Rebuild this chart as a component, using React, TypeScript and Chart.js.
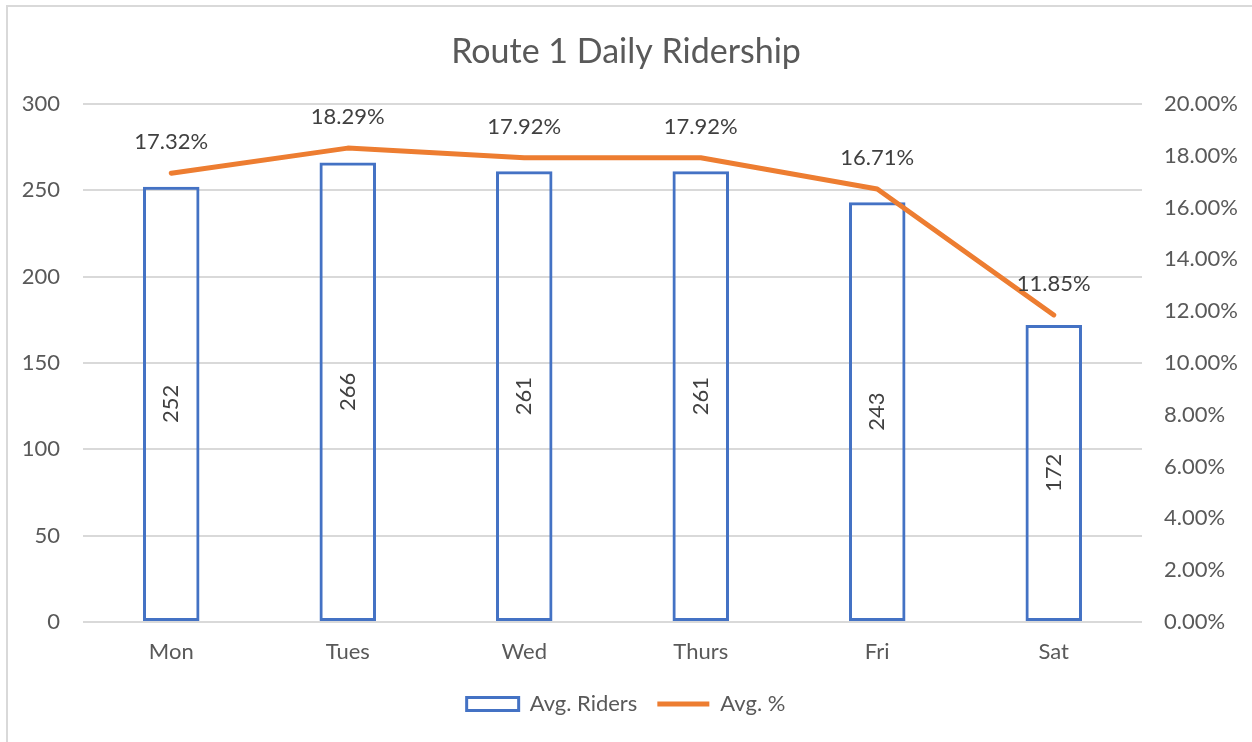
import React, { useEffect, useRef } from "react";
import { Chart, registerables } from "chart.js";

Chart.register(...registerables);

const days = ["Mon", "Tues", "Wed", "Thurs", "Fri", "Sat"];
const avgRiders = [252, 266, 261, 261, 243, 172];
const avgPct = [17.32, 18.29, 17.92, 17.92, 16.71, 11.85];
const leftTicks = [0, 50, 100, 150, 200, 250, 300];
const rightTicks = [0, 2, 4, 6, 8, 10, 12, 14, 16, 18, 20];

const FONT = "Lato, 'Open Sans', sans-serif";
const TXT = "#595959";
const LBL = "#404040";
const BLUE = "#4472C4";
const ORANGE = "#ED7D31";
const GRID = "#D9D9D9";

const labelPlugin = {
  id: "valueLabels",
  afterDatasetsDraw(chart: any) {
    const ctx = chart.ctx;
    ctx.save();
    ctx.fillStyle = LBL;
    ctx.font = `22px ${FONT}`;
    ctx.textAlign = "center";
    ctx.textBaseline = "middle";
    chart.data.datasets.forEach((ds: any, i: number) => {
      const meta = chart.getDatasetMeta(i);
      meta.data.forEach((el: any, j: number) => {
        const v = ds.data[j];
        if (ds.type === "bar") {
          const cy = (el.y + el.base) / 2;
          ctx.save();
          ctx.translate(el.x, cy);
          ctx.rotate(-Math.PI / 2);
          ctx.fillText(String(v), 0, 0);
          ctx.restore();
        } else {
          ctx.fillText(v.toFixed(2) + "%", el.x, el.y - 31);
        }
      });
    });
    ctx.restore();
  },
};

export default function App() {
  const ref = useRef<HTMLCanvasElement>(null);
  useEffect(() => {
    if (!ref.current) return;
    const chart = new Chart(ref.current, {
      data: {
        labels: days,
        datasets: [
          {
            type: "line",
            label: "Avg. %",
            data: avgPct,
            yAxisID: "y1",
            borderColor: ORANGE,
            backgroundColor: ORANGE,
            borderWidth: 5,
            pointRadius: 0,
            pointStyle: "line",
            borderCapStyle: "round",
            borderJoinStyle: "round",
            order: 0,
          } as any,
          {
            type: "bar",
            label: "Avg. Riders",
            data: avgRiders,
            yAxisID: "y",
            backgroundColor: "rgba(255,255,255,0)",
            borderColor: BLUE,
            borderWidth: 3,
            borderSkipped: false,
            pointStyle: "rect",
            barPercentage: 0.32,
            categoryPercentage: 1,
            order: 1,
          } as any,
        ],
      },
      options: {
        responsive: false,
        animation: false,
        layout: { padding: { top: 0, bottom: 17, left: 0, right: 0 } },
        plugins: {
          title: {
            display: true,
            text: "Route 1 Daily Ridership",
            color: TXT,
            font: { family: FONT, size: 34, weight: "normal" },
            padding: { top: 32, bottom: 31 },
          },
          legend: {
            position: "bottom",
            reverse: true,
            labels: {
              color: TXT,
              font: { family: FONT, size: 22 },
              usePointStyle: true,
              pointStyleWidth: 52,
              boxHeight: 13,
              padding: 20,
            },
          },
          tooltip: { enabled: false },
        },
        scales: {
          x: {
            grid: { display: false },
            border: { display: false },
            ticks: { color: TXT, font: { family: FONT, size: 22 }, padding: 9 },
            afterFit(s: any) {
              s.height = 51;
            },
          },
          y: {
            position: "left",
            min: 0,
            max: 300,
            afterBuildTicks(s: any) {
              s.ticks = leftTicks.map((v) => ({ value: v }));
            },
            grid: { color: GRID, lineWidth: 2, drawTicks: false },
            border: { display: false },
            ticks: { color: TXT, font: { family: FONT, size: 22 }, padding: 23 },
            afterFit(s: any) {
              s.width = 83;
            },
          },
          y1: {
            position: "right",
            min: 0,
            max: 20,
            afterBuildTicks(s: any) {
              s.ticks = rightTicks.map((v) => ({ value: v }));
            },
            grid: { display: false, drawTicks: false },
            border: { display: false },
            ticks: {
              color: TXT,
              font: { family: FONT, size: 22 },
              padding: 22,
              callback: (v: any) => Number(v).toFixed(2) + "%",
            },
            afterFit(s: any) {
              s.width = 110;
            },
          },
        },
      } as any,
      plugins: [labelPlugin],
    });
    return () => chart.destroy();
  }, []);
  return (
    <>
      <div
        style={{
          position: "fixed",
          left: 6,
          top: 5,
          width: 1300,
          height: 800,
          border: `2px solid ${GRID}`,
          boxSizing: "border-box",
        }}
      />
      <canvas
        ref={ref}
        width={1252}
        height={742}
        style={{ position: "fixed", left: 0, top: 0 }}
      />
    </>
  );
}
